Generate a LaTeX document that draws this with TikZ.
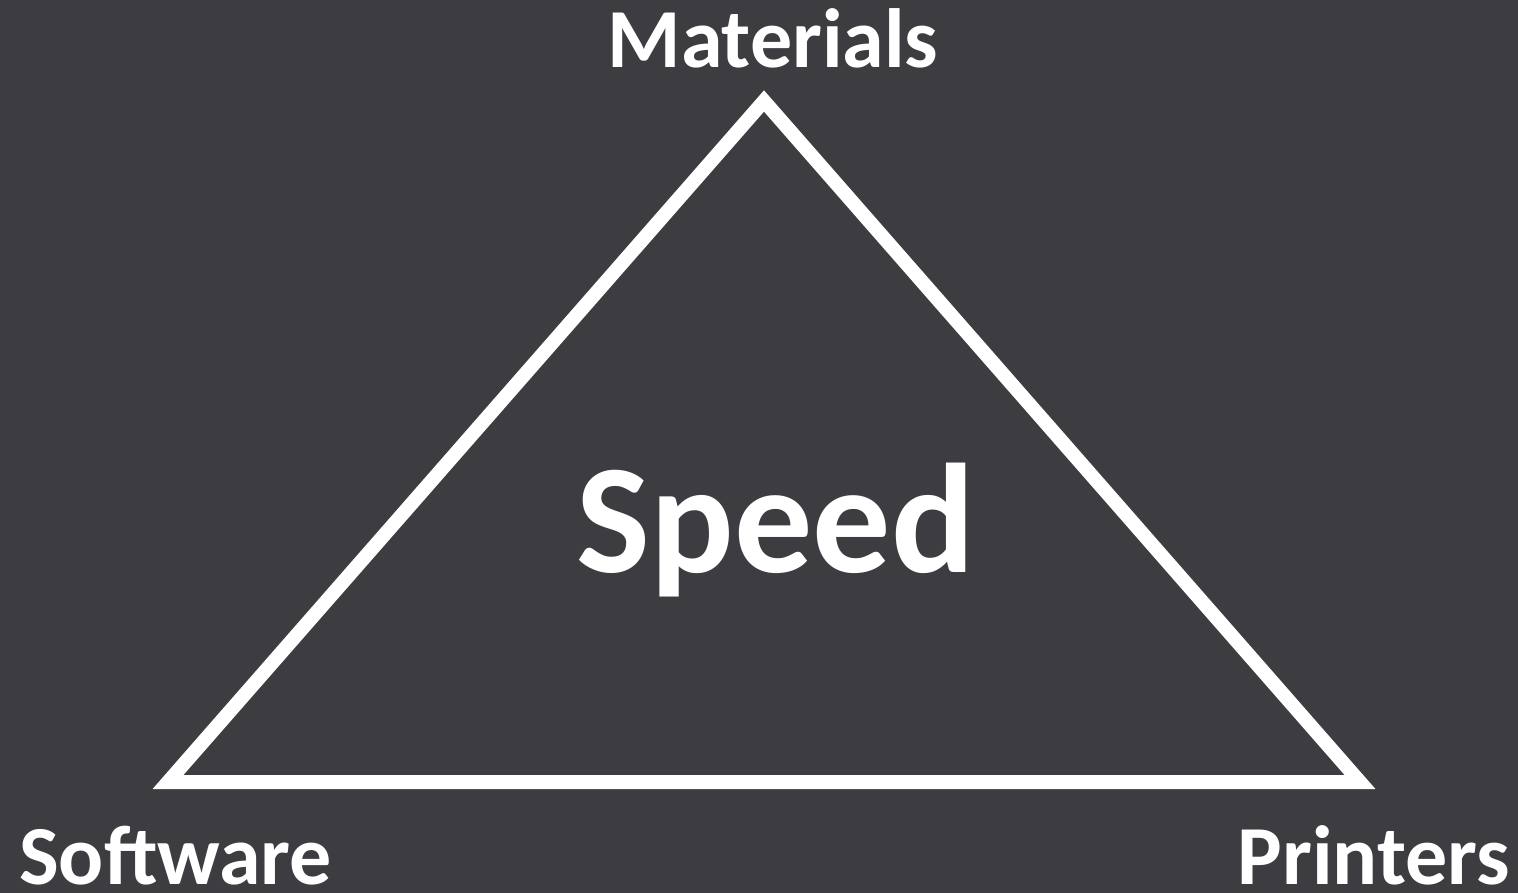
\documentclass[tikz,border=0pt]{standalone}
\usepackage{fontspec}
\setmainfont{Carlito}
\definecolor{bg}{HTML}{3D3C41}
\tikzset{
  lbl/.style={text=white, font=\bfseries\fontsize{84}{84}\selectfont, inner sep=0pt, anchor=base, text depth=0pt},
  big/.style={text=white, font=\bfseries\fontsize{156}{156}\selectfont, inner sep=0pt, anchor=base},
  tri/.style={draw=white, line width=14pt, line join=miter}
}
\begin{document}
\begin{tikzpicture}[x=1pt,y=-1pt]
\fill[bg] (0,0) rectangle (1518,893);
\useasboundingbox (0,0) rectangle (1518,893);
\coordinate (top) at (764,101);
\coordinate (bl) at (168,782);
\coordinate (br) at (1360,782);
\draw[tri] (top) -- (br) -- (bl) -- cycle;
\node[lbl] (mat) at (773,68) {Materials};
\node[big] (spd) at (776,572) {Speed};
\node[lbl, anchor=base west] (sw) at (19,884) {Software};
\node[lbl, anchor=base east] (pr) at (1510,884) {Printers};
\end{tikzpicture}
\end{document}
